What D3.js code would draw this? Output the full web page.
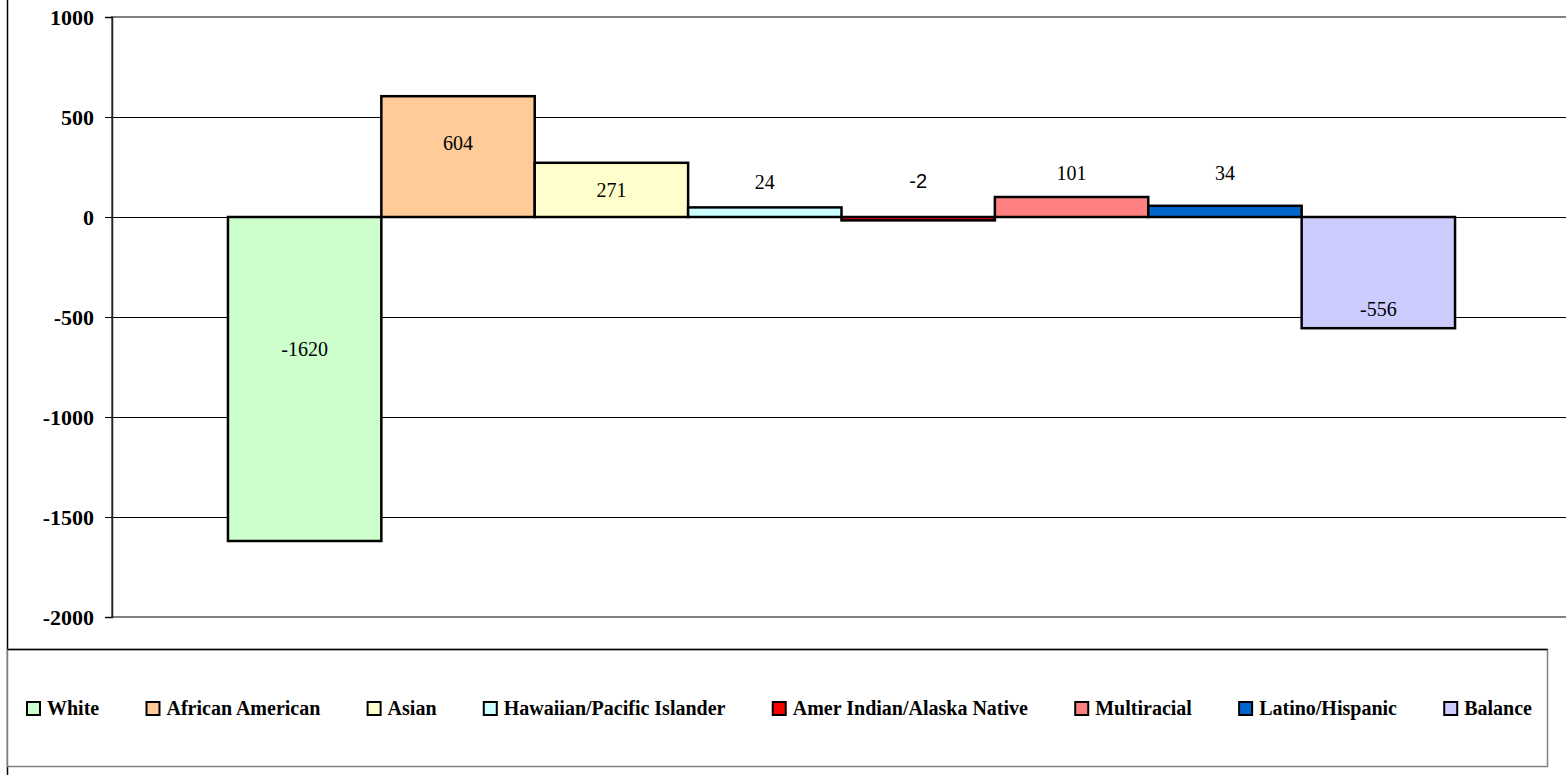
<!DOCTYPE html>
<html>
<head>
<meta charset="utf-8">
<script src="https://cdn.jsdelivr.net/npm/d3@7"></script>
<style>
  body { margin: 0; background: #fff; }
  svg { display: block; }
</style>
</head>
<body>
<svg width="1566" height="775"></svg>
<script>
//-- data --//
const groups = ["White", "African American", "Asian", "Hawaiian/Pacific Islander",
  "Amer Indian/Alaska Native", "Multiracial", "Latino/Hispanic", "Balance"];
const barValues = [-1620, 604, 271, 48, -17, 100, 56, -556];
const labelText = ["-1620", "604", "271", "24", "-2", "101", "34", "-556"];
// where each label box sits, in axis units
const labelAt = [-660, 370, 135, 175, 180, 220, 220, -460];
const colors = ["#CCFFCC", "#FFCC99", "#FFFFCC", "#CCFFFF", "#FF0000", "#FF8080", "#0066CC", "#CCCCFF"];
const yTicks = [1000, 500, 0, -500, -1000, -1500, -2000];

const plot = {left: 112, right: 1571, top: 17, bottom: 617};
const svg = d3.select("svg");
const serif = "'Liberation Serif', 'Times New Roman', serif";

const x = d3.scaleBand()
    .domain(groups)
    .range([plot.left, plot.right])
    .paddingInner(0)
    .paddingOuter(0.756);

const y = d3.scaleLinear()
    .domain([-2000, 1000])
    .range([plot.bottom, plot.top]);

//-- outer frame --//
svg.append("line")
    .attr("x1", 7.5).attr("x2", 7.5)
    .attr("y1", 0).attr("y2", 775)
    .attr("stroke", "#000").attr("stroke-width", 1.5);

//-- grid --//
svg.append("g")
    .attr("shape-rendering", "crispEdges")
    .selectAll("line")
    .data(yTicks.filter(d => d > -2000 && d < 1000))
    .join("line")
    .attr("x1", plot.left).attr("x2", plot.right)
    .attr("y1", d => y(d) + 0.5).attr("y2", d => y(d) + 0.5)
    .attr("stroke", "#000").attr("stroke-width", 1);

// plot area border (gray)
svg.append("rect")
    .attr("x", plot.left).attr("y", plot.top)
    .attr("width", plot.right - plot.left).attr("height", plot.bottom - plot.top)
    .attr("fill", "none").attr("stroke", "#808080").attr("stroke-width", 2);

//-- bars --//
const bars = groups.map((g, i) => ({name: g, value: barValues[i], label: labelText[i], at: labelAt[i], color: colors[i]}));

svg.append("g")
    .selectAll("rect")
    .data(bars)
    .join("rect")
    .attr("x", d => x(d.name))
    .attr("width", x.bandwidth())
    .attr("y", d => y(Math.max(0, d.value)))
    .attr("height", d => Math.abs(y(d.value) - y(0)))
    .attr("fill", d => d.color)
    .attr("stroke", "#000")
    .attr("stroke-width", 2.5);

//-- y axis --//
svg.append("g")
    .attr("transform", `translate(${plot.left},0)`)
    .call(d3.axisLeft(y).tickValues(yTicks).tickSize(7).tickPadding(11).tickFormat(d => String(d)))
    .call(g => g.select(".domain").attr("stroke", "#222").attr("stroke-width", 1.5))
    .call(g => g.selectAll(".tick line").attr("stroke", "#000"))
    .call(g => g.selectAll(".tick text")
        .attr("fill", "#000")
        .style("font-family", serif)
        .style("font-weight", "bold")
        .style("font-size", "22px"));

//-- labels --//
svg.append("g")
    .selectAll("text")
    .data(bars)
    .join("text")
    .attr("x", d => x(d.name) + x.bandwidth() / 2)
    .attr("y", d => y(d.at))
    .attr("dy", "0.35em")
    .attr("text-anchor", "middle")
    .style("font-size", "20px")
    .style("font-family", d => d.label === "-2" ? "'Liberation Sans', Arial, sans-serif" : serif)
    .attr("fill", "#000")
    .text(d => d.label);

//-- legend --//
const legendBox = {x: 7.5, y: 649.5, w: 1540, h: 117};
svg.append("rect")
    .attr("x", legendBox.x).attr("y", legendBox.y)
    .attr("width", legendBox.w).attr("height", legendBox.h)
    .attr("fill", "#fff").attr("stroke", "#808080").attr("stroke-width", 1.5);
svg.append("line")
    .attr("x1", legendBox.x).attr("x2", legendBox.x + legendBox.w)
    .attr("y1", legendBox.y).attr("y2", legendBox.y)
    .attr("stroke", "#000").attr("stroke-width", 1.5);

const legend = svg.append("g");
const items = legend.selectAll("g")
    .data(bars)
    .join("g");

items.append("rect")
    .attr("x", 1).attr("y", -13)
    .attr("width", 13).attr("height", 13)
    .attr("fill", d => d.color)
    .attr("stroke", "#000").attr("stroke-width", 2);

items.append("text")
    .attr("x", 21)
    .attr("y", 0)
    .style("font-family", serif)
    .style("font-weight", "bold")
    .style("font-size", "20px")
    .attr("fill", "#000")
    .text(d => d.name);

// spread items evenly between first marker and last text end
const startX = 26, endX = 1532, baseY = 715;
const widths = items.nodes().map(n => 21 + n.querySelector("text").getComputedTextLength());
const gap = (endX - startX - d3.sum(widths)) / (widths.length - 1);
let cx = startX;
items.attr("transform", (d, i) => {
    const t = `translate(${cx},${baseY})`;
    cx += widths[i] + gap;
    return t;
});
</script>
</body>
</html>
